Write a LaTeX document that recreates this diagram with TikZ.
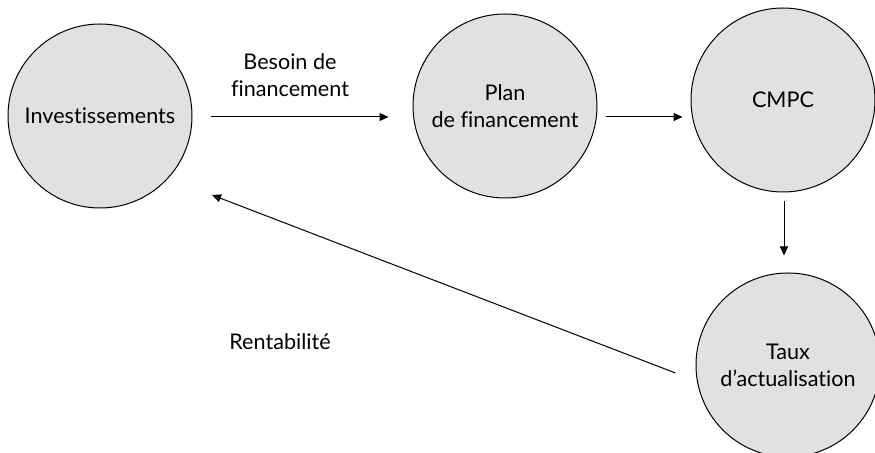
\documentclass[tikz,border=0pt]{standalone}
\usepackage{fontspec}
\setmainfont{Lato}[Ligatures={TeX,NoCommon}]
\usetikzlibrary{arrows.meta}
\definecolor{bubblegray}{RGB}{224,225,227}
\tikzset{
  bubble/.style={circle, draw, fill=bubblegray, line width=0.5pt,
    minimum size=92pt, inner sep=0pt, align=center,
    font=\fontsize{10.8}{13.5}\selectfont},
  flow/.style={-{Triangle[length=4.5pt, width=4pt]}, line width=0.5pt},
  caption/.style={align=center, font=\fontsize{10.8}{13.5}\selectfont}
}
\begin{document}
\begin{tikzpicture}[x=0.5pt, y=-0.5pt]
  \useasboundingbox (0,0) rectangle (875,453);

  % Circles
  \node [bubble] (inv)  at (100,116) {Investissements};
  \node [bubble] (plan) at (505,106) {Plan\\de financement};
  \node [bubble] (cmpc) at (783,100) {CMPC};
  \node [bubble] (taux) at (788,365) {Taux\\d’actualisation};

  % Arrows
  \draw [flow] ([shift={(18,1)}]inv.east) -- ([shift={(-24,11)}]plan.west);
  \draw [flow] ([shift={(8,11)}]plan.east) -- ([shift={(-8,17)}]cmpc.west);
  \draw [flow] ([shift={(1,9)}]cmpc.south) -- ([shift={(-4,-17)}]taux.north);
  \draw [flow] ([shift={(-20,8)}]taux.west) -- ([shift={(112,79)}]inv.center);

  % Labels
  \node [caption] (besoin) at (290,75) {Besoin de\\financement};
  \node [caption] (renta) at (280,342) {Rentabilité};

\end{tikzpicture}
\end{document}
